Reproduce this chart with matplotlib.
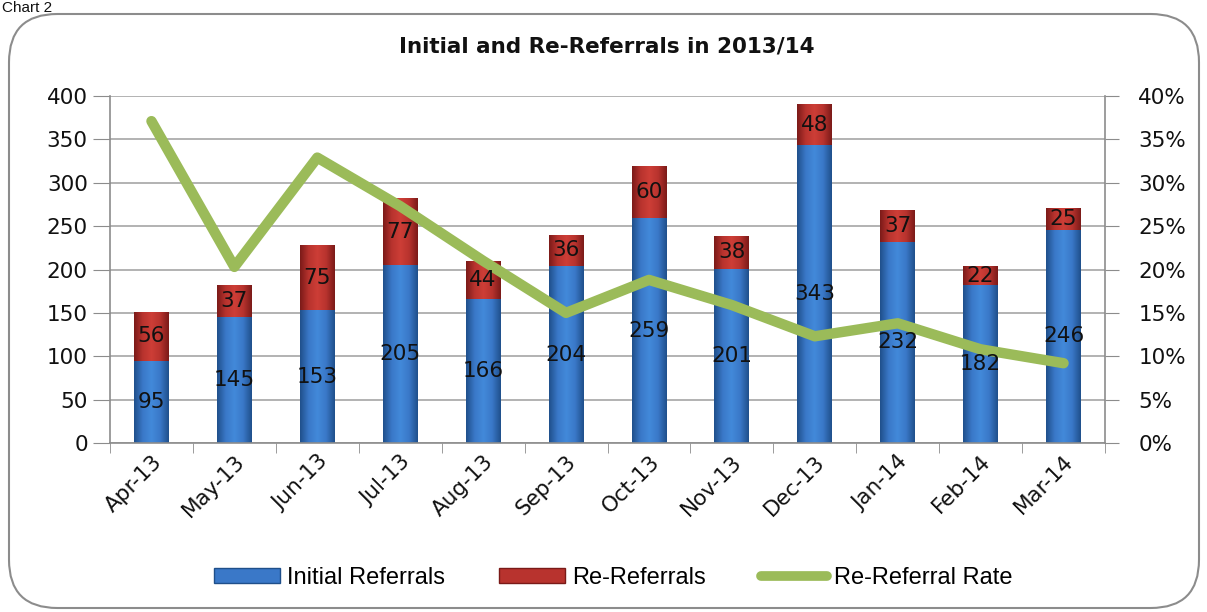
import numpy as np
import matplotlib
matplotlib.use("Agg")
import matplotlib.pyplot as plt
from matplotlib.patches import FancyBboxPatch
from matplotlib.lines import Line2D
from matplotlib.colors import LinearSegmentedColormap

plt.rcParams["font.family"] = ["DejaVu Sans"]
plt.rcParams["font.sans-serif"] = ["DejaVu Sans"]

months = ["Apr-13", "May-13", "Jun-13", "Jul-13", "Aug-13", "Sep-13",
          "Oct-13", "Nov-13", "Dec-13", "Jan-14", "Feb-14", "Mar-14"]
initial = [95, 145, 153, 205, 166, 204, 259, 201, 343, 232, 182, 246]
rereferrals = [56, 37, 75, 77, 44, 36, 60, 38, 48, 37, 22, 25]
rate = [0.371, 0.203, 0.329, 0.273, 0.210, 0.150, 0.188, 0.159, 0.123, 0.138, 0.108, 0.092]
left_ticks = [0, 50, 100, 150, 200, 250, 300, 350, 400]
right_ticks = [0, 0.05, 0.10, 0.15, 0.20, 0.25, 0.30, 0.35, 0.40]
right_labels = ["0%", "5%", "10%", "15%", "20%", "25%", "30%", "35%", "40%"]

W, H = 1207, 612
fig = plt.figure(figsize=(W / 100, H / 100), dpi=100)
fig.patch.set_facecolor("white")

# rounded frame
frame = FancyBboxPatch((9 / W, 4 / H), 1190 / W, 594 / H,
                       boxstyle="round,pad=0,rounding_size=0.04",
                       transform=fig.transFigure, facecolor="none",
                       edgecolor="#8c8c8c", linewidth=1.5, mutation_aspect=W / H,
                       zorder=-5)
fig.patches.append(frame)
fig.text(2 / W, 1 - 1 / H, "Chart 2", fontsize=11, va="top", ha="left",
         color="#111111", family=["Liberation Sans"])

ax = fig.add_axes([110 / W, 1 - 443 / H, 995 / W, 347 / H])
ax.set_facecolor("none")
x = np.arange(len(months))
bw = 0.42

blue_cmap = LinearSegmentedColormap.from_list("b", ["#1f4f8a", "#3a78c8", "#4289da", "#3a78c8", "#1f4f8a"])
red_cmap = LinearSegmentedColormap.from_list("r", ["#7a1a18", "#b8332e", "#cd3e37", "#b8332e", "#7a1a18"])

b1 = ax.bar(x, initial, width=bw, color="#3a78c8", zorder=2)
b2 = ax.bar(x, rereferrals, bottom=initial, width=bw, color="#b8332e", zorder=2)
grad = np.linspace(0, 1, 256).reshape(1, -1)
for bars, cmap in ((b1, blue_cmap), (b2, red_cmap)):
    for p in bars:
        x0, y0 = p.get_x(), p.get_y()
        w, h = p.get_width(), p.get_height()
        im = ax.imshow(grad, cmap=cmap, extent=(x0, x0 + w, y0, y0 + h),
                       aspect="auto", zorder=2.5, interpolation="bilinear")
        im.set_clip_path(p)

ax.set_xlim(-0.5, len(months) - 0.5)
ax.set_ylim(0, 400)
ax.set_yticks(left_ticks)
ax.set_yticklabels([str(v) for v in left_ticks], family="DejaVu Sans")
ax.yaxis.grid(True, color="#a6a6a6", linewidth=1.2, zorder=0)
ax.set_axisbelow(True)
ax.set_xticks(x)
ax.set_xticklabels(months, rotation=45, ha="right", rotation_mode="anchor",
                   family="DejaVu Sans")
ax.set_xticks(np.arange(-0.5, len(months)), minor=True)
ax.tick_params(axis="x", which="major", length=0, pad=6, labelsize=15.5, labelcolor="#111111")
ax.tick_params(axis="x", which="minor", length=7, color="#8c8c8c", direction="out")
ax.tick_params(axis="y", length=12, color="#8c8c8c", labelsize=15.5, pad=4, labelcolor="#111111")
for s in ("top", "right"):
    ax.spines[s].set_visible(False)
for s in ("left", "bottom"):
    ax.spines[s].set_color("#8c8c8c")
    ax.spines[s].set_linewidth(1.2)

ax2 = ax.twinx()
ax2.set_ylim(0, 0.4)
ax2.set_yticks(right_ticks)
ax2.set_yticklabels(right_labels, family="DejaVu Sans")
ax2.tick_params(axis="y", length=10, color="#8c8c8c", labelsize=15.5, pad=14, labelcolor="#111111")
for s in ("top", "left", "bottom"):
    ax2.spines[s].set_visible(False)
ax2.spines["right"].set_color("#8c8c8c")
ax2.spines["right"].set_linewidth(1.2)
ax2.plot(x, rate, color="#9bbb59", linewidth=7.5, solid_capstyle="round",
         solid_joinstyle="round", zorder=3)

for xi, a, b in zip(x, initial, rereferrals):
    ax2.text(xi, a / 2, str(a), transform=ax.transData, ha="center", va="center",
             fontsize=15.5, color="#111111", zorder=5, family="DejaVu Sans")
    ax2.text(xi, a + b / 2, str(b), transform=ax.transData, ha="center", va="center",
             fontsize=15.5, color="#111111", zorder=5, family="DejaVu Sans")

fig.text(607 / W, 1 - 47 / H, "Initial and Re-Referrals in 2013/14", ha="center",
         va="center", fontsize=15.5, fontweight="bold", color="#111111")

handles = [
    plt.Rectangle((0, 0), 1, 1, facecolor="#3a78c8", edgecolor="#1f4f8a"),
    plt.Rectangle((0, 0), 1, 1, facecolor="#b8332e", edgecolor="#7a1a18"),
    Line2D([0], [0], color="#9bbb59", linewidth=7, solid_capstyle="round"),
]
fig.legend(handles, ["Initial Referrals", "Re-Referrals", "Re-Referral Rate"],
           loc="center", bbox_to_anchor=(613 / W, 1 - 578 / H), ncol=3,
           frameon=False, handlelength=2.8, handleheight=0.6,
           handletextpad=0.3, columnspacing=2.3,
           prop={"family": ["Liberation Sans"], "size": 17})

fig.savefig("out.png", dpi=100)
